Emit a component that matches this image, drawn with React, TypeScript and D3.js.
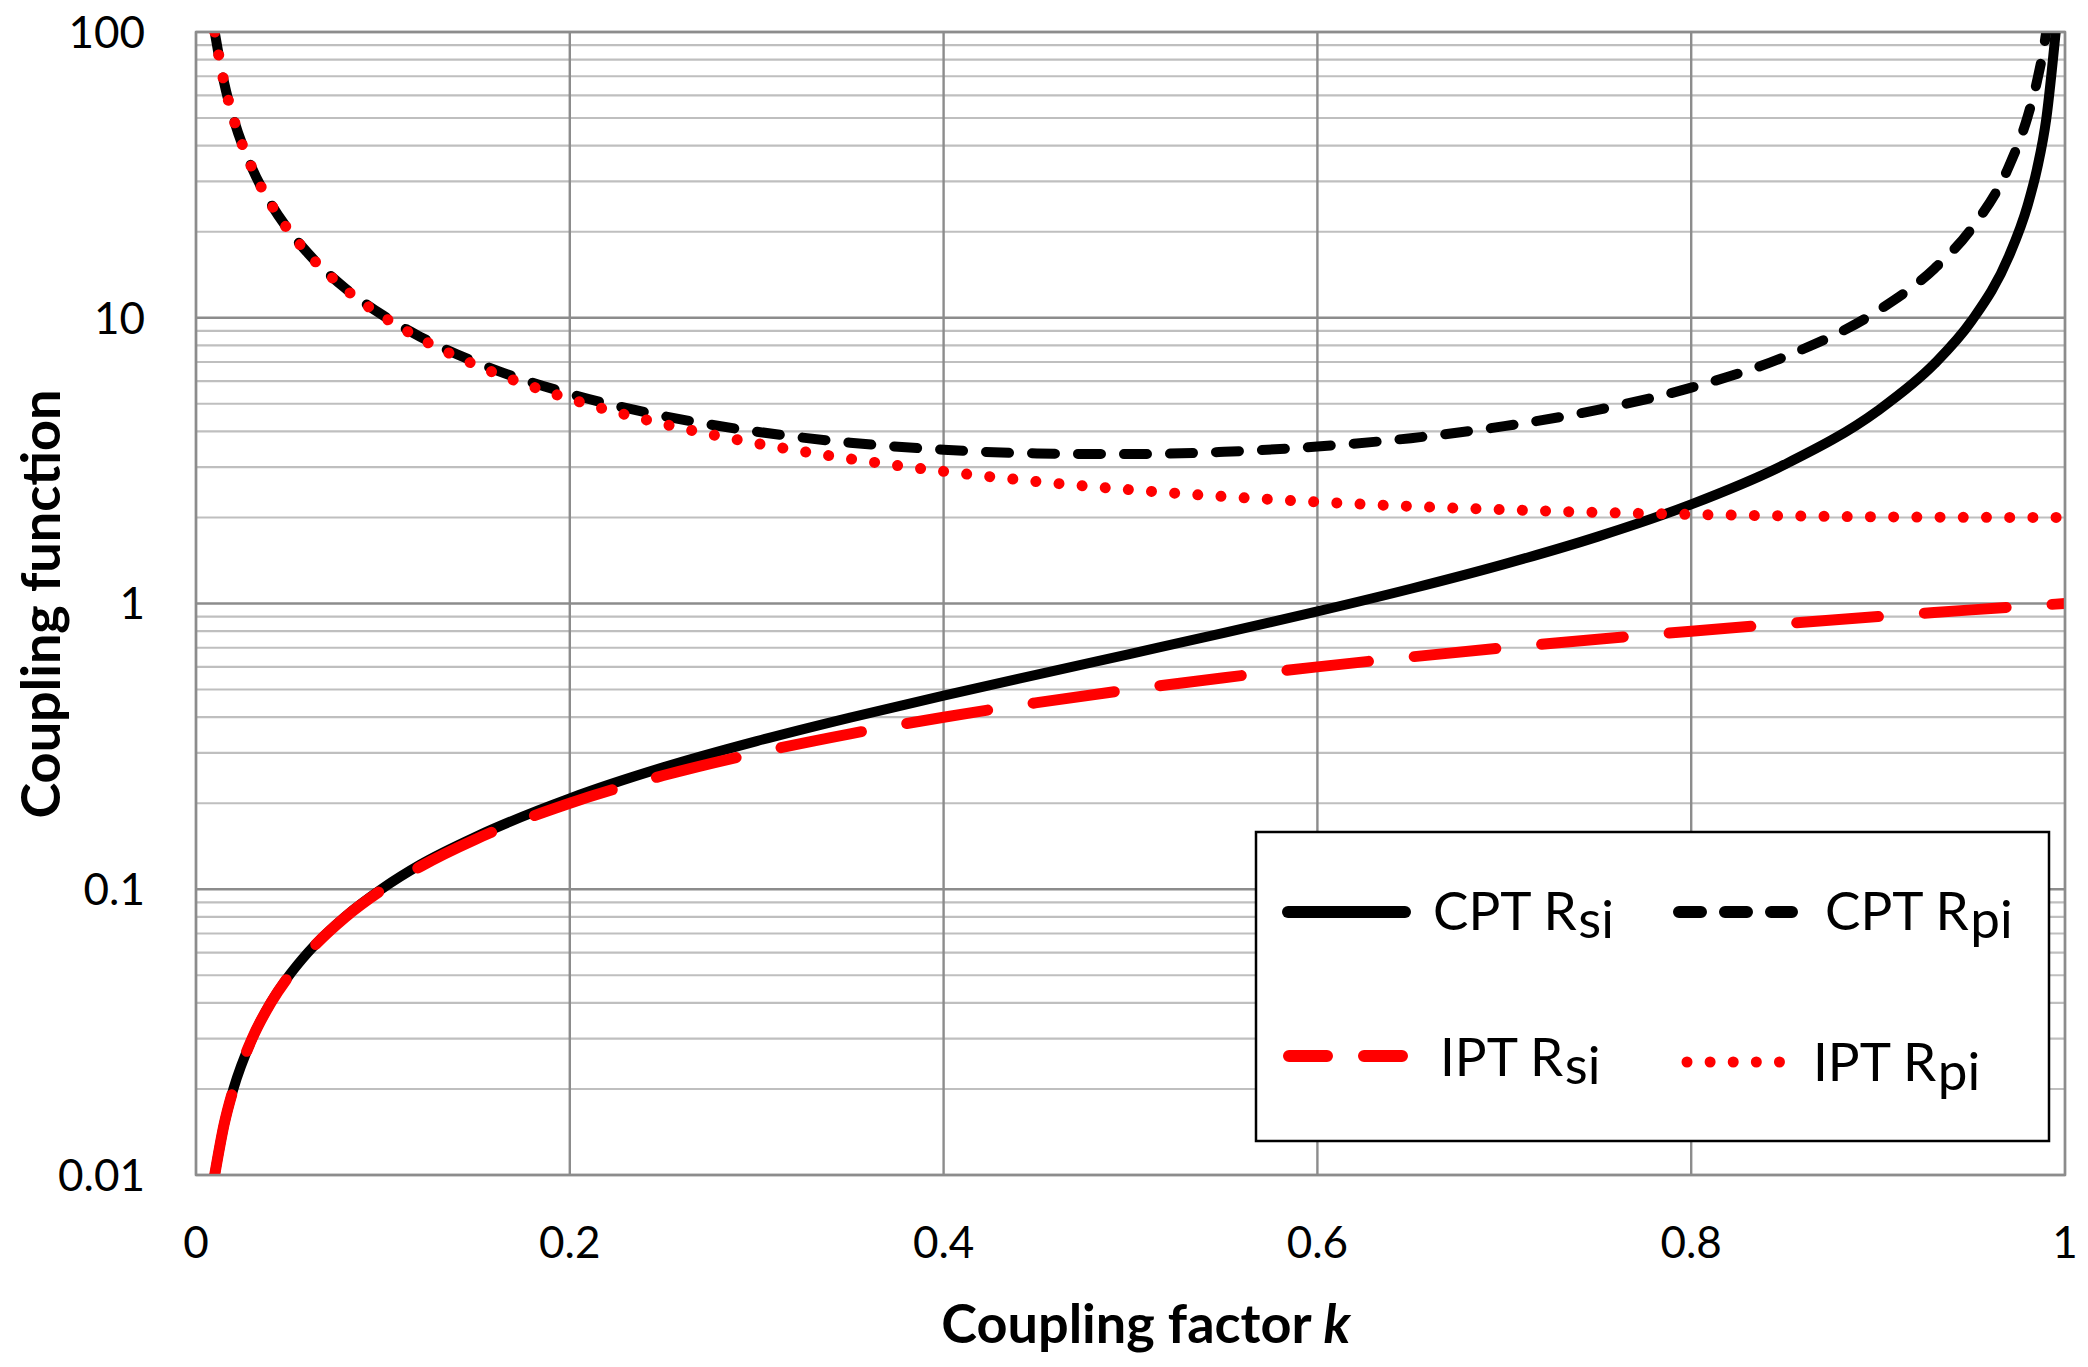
import { useEffect, useRef } from 'react';
import * as d3 from 'd3';

// coupling factor k, sampled along the curves
const kValues = [0.01, 0.015, 0.02, 0.03, 0.04, 0.05, 0.06, 0.08, 0.1, 0.12, 0.15, 0.2, 0.25, 0.3, 0.35, 0.4, 0.45, 0.5, 0.55, 0.6, 0.65, 0.7, 0.75, 0.8, 0.85, 0.9, 0.93, 0.95, 0.97, 0.98, 0.985, 0.99, 0.995, 1.0];
const cptRsi = [0.0100, 0.0150, 0.0200, 0.0300, 0.0401, 0.0501, 0.0602, 0.0805, 0.101, 0.122, 0.153, 0.208, 0.267, 0.330, 0.399, 0.476, 0.564, 0.667, 0.789, 0.938, 1.126, 1.373, 1.714, 2.222, 3.063, 4.737, 6.884, 9.744, 16.43, 24.75, 33.08, 49.75, 99.75, null];
const cptRpi = [100.0, 66.70, 50.04, 33.39, 25.08, 20.10, 16.79, 12.66, 10.20, 8.577, 6.974, 5.417, 4.533, 3.993, 3.655, 3.452, 3.351, 3.333, 3.395, 3.542, 3.790, 4.174, 4.762, 5.694, 7.303, 10.59, 14.84, 20.54, 33.86, 50.52, 67.18, 100.5, 200.5, null];
const iptRsi = [0.01, 0.015, 0.02, 0.03, 0.04, 0.05, 0.06, 0.08, 0.1, 0.12, 0.15, 0.2, 0.25, 0.3, 0.35, 0.4, 0.45, 0.5, 0.55, 0.6, 0.65, 0.7, 0.75, 0.8, 0.85, 0.9, 0.93, 0.95, 0.97, 0.98, 0.985, 0.99, 0.995, 1.0];
const iptRpi = [100.0, 66.68, 50.02, 33.36, 25.04, 20.05, 16.73, 12.58, 10.10, 8.453, 6.817, 5.200, 4.250, 3.633, 3.207, 2.900, 2.672, 2.500, 2.368, 2.267, 2.188, 2.129, 2.083, 2.050, 2.026, 2.011, 2.005, 2.003, 2.001, 2.000, 2.000, 2.000, 2.000, 2.000];

const xTicks = [0, 0.2, 0.4, 0.6, 0.8, 1];
const xTickLabels = ['0', '0.2', '0.4', '0.6', '0.8', '1'];
const yTicks = [0.01, 0.1, 1, 10, 100];
const yTickLabels = ['0.01', '0.1', '1', '10', '100'];

const FONT = "Lato, 'Open Sans', sans-serif";

const App = () => {
  const ref = useRef<SVGSVGElement>(null);

  useEffect(() => {
    document.body.style.margin = '0';
    const width = 2088;
    const height = 1367;
    const margin = { top: 32, right: 23, bottom: 192, left: 196 };
    const x0 = margin.left, x1 = width - margin.right;
    const y0 = margin.top, y1 = height - margin.bottom;

    const svg = d3.select(ref.current)
      .attr('width', width)
      .attr('height', height);
    svg.selectAll('*').remove();

    const x = d3.scaleLinear().domain([0, 1]).range([x0, x1]);
    const y = d3.scaleLog().domain([0.01, 100]).range([y1, y0]);

    // minor horizontal grid
    const minor: number[] = [];
    yTicks.slice(0, -1).forEach((d) => {
      for (let m = 2; m <= 9; m++) minor.push(d * m);
    });
    svg.append('g')
      .selectAll('line')
      .data(minor)
      .enter()
      .append('line')
      .attr('x1', x0).attr('x2', x1)
      .attr('y1', (d) => y(d)).attr('y2', (d) => y(d))
      .attr('stroke', '#bfbfbf')
      .attr('stroke-width', 2.2);

    // major grid
    svg.append('g')
      .selectAll('line')
      .data(yTicks)
      .enter()
      .append('line')
      .attr('x1', x0).attr('x2', x1)
      .attr('y1', (d) => y(d)).attr('y2', (d) => y(d))
      .attr('stroke', '#8c8c8c')
      .attr('stroke-width', 2.4);
    svg.append('g')
      .selectAll('line')
      .data(xTicks)
      .enter()
      .append('line')
      .attr('x1', (d) => x(d)).attr('x2', (d) => x(d))
      .attr('y1', y0).attr('y2', y1)
      .attr('stroke', '#8c8c8c')
      .attr('stroke-width', 2.4);

    // tick labels
    svg.append('g')
      .selectAll('text')
      .data(yTicks)
      .enter()
      .append('text')
      .attr('x', 145)
      .attr('y', (d) => y(d))
      .attr('dy', '0.36em')
      .attr('text-anchor', 'end')
      .attr('font-family', FONT)
      .attr('font-size', 44)
      .text((d, i) => yTickLabels[i]);
    svg.append('g')
      .selectAll('text')
      .data(xTicks)
      .enter()
      .append('text')
      .attr('x', (d) => x(d))
      .attr('y', 1258)
      .attr('text-anchor', 'middle')
      .attr('font-family', FONT)
      .attr('font-size', 44)
      .text((d, i) => xTickLabels[i]);

    // axis titles
    const xt = svg.append('text')
      .attr('x', 1146)
      .attr('y', 1343)
      .attr('text-anchor', 'middle')
      .attr('font-family', FONT)
      .attr('font-size', 54)
      .attr('font-weight', 'bold');
    xt.append('tspan').text('Coupling factor ');
    xt.append('tspan').attr('font-style', 'italic').text('k');

    svg.append('text')
      .attr('transform', 'translate(60,604) rotate(-90)')
      .attr('text-anchor', 'middle')
      .attr('font-family', FONT)
      .attr('font-size', 54)
      .attr('font-weight', 'bold')
      .text('Coupling function');

    // curves
    svg.append('clipPath').attr('id', 'plot-clip')
      .append('rect')
      .attr('x', x0).attr('y', y0)
      .attr('width', x1 - x0).attr('height', y1 - y0);

    const series = [
      { values: cptRsi, color: '#000000', width: 10, dash: null },
      { values: cptRpi, color: '#000000', width: 10, dash: '23 23' },
      { values: iptRsi, color: '#ff0000', width: 11, dash: '82 46' },
      { values: iptRpi, color: '#ff0000', width: 11, dash: '0.01 23.2' },
    ];

    const line = d3.line<[number, number | null]>()
      .defined((d) => d[1] != null)
      .x((d) => x(d[0]))
      .y((d) => y(d[1] as number))
      .curve(d3.curveMonotoneX);

    const lines = svg.append('g').attr('clip-path', 'url(#plot-clip)');
    series.forEach((s) => {
      const pts = kValues.map((k, i) => [k, s.values[i]] as [number, number | null]);
      lines.append('path')
        .attr('d', line(pts))
        .attr('fill', 'none')
        .attr('stroke', s.color)
        .attr('stroke-width', s.width)
        .attr('stroke-linecap', 'round')
        .attr('stroke-linejoin', 'round')
        .attr('stroke-dasharray', s.dash);
    });

    // frame
    svg.append('rect')
      .attr('x', x0).attr('y', y0)
      .attr('width', x1 - x0).attr('height', y1 - y0)
      .attr('fill', 'none')
      .attr('stroke', '#8c8c8c')
      .attr('stroke-width', 2.4);

    // legend
    const lg = svg.append('g');
    lg.append('rect')
      .attr('x', 1256).attr('y', 832)
      .attr('width', 793).attr('height', 309)
      .attr('fill', '#ffffff')
      .attr('stroke', '#000000')
      .attr('stroke-width', 2.5);

    const items = [
      { name: 'CPT R', sub: 'si', color: '#000000', w: 12, dash: null, lx: [1288, 1405], ly: 912, tx: 1433, ty: 930, sdy: 8 },
      { name: 'CPT R', sub: 'pi', color: '#000000', w: 12, dash: '22 24', lx: [1679, 1792], ly: 912, tx: 1825, ty: 930, sdy: 8 },
      { name: 'IPT R', sub: 'si', color: '#ff0000', w: 12, dash: '38 37', lx: [1289, 1403], ly: 1056, tx: 1440, ty: 1076, sdy: 8 },
      { name: 'IPT R', sub: 'pi', color: '#ff0000', w: 11, dash: '0.01 23.1', lx: [1687, 1780], ly: 1062, tx: 1813, ty: 1081, sdy: 9 },
    ];
    items.forEach((it) => {
      lg.append('line')
        .attr('x1', it.lx[0]).attr('x2', it.lx[1])
        .attr('y1', it.ly).attr('y2', it.ly)
        .attr('stroke', it.color)
        .attr('stroke-width', it.w)
        .attr('stroke-linecap', 'round')
        .attr('stroke-dasharray', it.dash);
      const t = lg.append('text')
        .attr('x', it.tx).attr('y', it.ty)
        .attr('font-family', FONT)
        .attr('font-size', 53);
      t.append('tspan').text(it.name);
      t.append('tspan').attr('dy', it.sdy).attr('dx', 2).attr('font-size', 53).text(it.sub);
    });
  }, []);

  return <svg ref={ref} style={{ display: 'block' }}></svg>;
};

export default App;
